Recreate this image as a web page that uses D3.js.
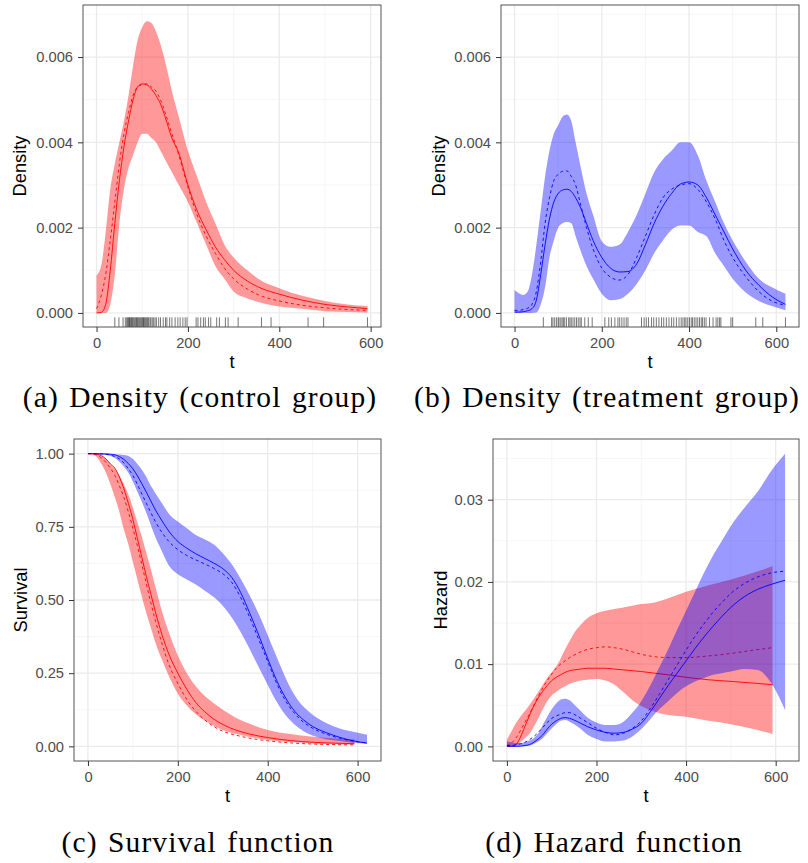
<!DOCTYPE html>
<html>
<head>
<meta charset="utf-8">
<script src="https://cdn.jsdelivr.net/npm/d3@7"></script>
<style>
  body { margin: 0; background: #fff; }
  svg { display: block; }
</style>
</head>
<body>
<svg id="fig" width="808" height="863"></svg>
<script>
// ---- time grids ----
const tCtrl = [0,10,20,30,40,50,60,70,80,90,100,110,120,130,140,150,165,180,200,220,240,260,280,300,330,360,400,450,500,550,593];
const tTrt  = [0,10,20,30,40,50,60,70,80,90,100,110,120,130,140,150,165,180,200,220,240,260,280,300,320,340,360,380,400,420,440,460,480,500,530,560,590,621];

// ---- density, control group ----
const densCtrlFit = [0,0.00001,0.0002,0.0010,0.0021,0.0031,0.0039,0.0045,0.0050,0.0053,0.00537,0.00535,0.00525,0.0051,0.0049,0.0046,0.0041,0.00375,0.0030,0.0024,0.00195,0.00155,0.00125,0.0010,0.00075,0.00058,0.00044,0.0003,0.0002,0.00014,0.0001];
const densCtrlRef = [0.0001,0.0004,0.0009,0.0017,0.0026,0.0035,0.0042,0.0047,0.0051,0.0053,0.00535,0.00537,0.0053,0.0052,0.0050,0.0047,0.0042,0.0037,0.00295,0.0023,0.0018,0.0014,0.00105,0.0008,0.00056,0.0004,0.00028,0.00018,0.00012,0.00008,0.00006];
const densCtrlLo  = [0,0,0,0.0002,0.0009,0.0021,0.0029,0.0034,0.0037,0.0040,0.0042,0.0042,0.0041,0.0040,0.0038,0.0036,0.0033,0.0030,0.0026,0.0021,0.0016,0.0011,0.0008,0.0005,0.00034,0.00024,0.00015,0.0001,0.00004,0.00002,0.00001];
const densCtrlHi  = [0.00088,0.0011,0.0019,0.0029,0.0035,0.0040,0.0045,0.0051,0.0058,0.0064,0.0067,0.00684,0.0068,0.0066,0.0063,0.0059,0.0052,0.0046,0.0038,0.0032,0.0026,0.0021,0.0016,0.0013,0.0010,0.00076,0.00058,0.0004,0.00028,0.0002,0.00016];

// ---- density, treatment group ----
const densTrtFit = [0.00002,0.00002,0.00003,0.00005,0.0001,0.0003,0.0009,0.0016,0.0022,0.0026,0.0028,0.00288,0.0029,0.00285,0.0027,0.0025,0.0021,0.0017,0.0013,0.00105,0.00096,0.00097,0.00115,0.0016,0.0021,0.0025,0.0028,0.00302,0.00307,0.0030,0.0027,0.0023,0.0019,0.0015,0.0010,0.00065,0.00038,0.0002];
const densTrtRef = [0.00006,0.00006,0.00008,0.00011,0.0002,0.0005,0.0012,0.0021,0.0027,0.0031,0.00325,0.00332,0.00333,0.0032,0.0030,0.0026,0.0020,0.0015,0.00105,0.00084,0.00077,0.0009,0.0013,0.0018,0.0023,0.0027,0.0029,0.0030,0.00303,0.0029,0.0026,0.0022,0.0017,0.0013,0.00085,0.0005,0.00028,0.00018];
const densTrtLo  = [0,0,0,0,0,0.00001,0.0002,0.0006,0.0013,0.0017,0.0020,0.0021,0.00213,0.0021,0.0018,0.0015,0.0011,0.0008,0.00045,0.0003,0.00032,0.00045,0.00068,0.0010,0.0014,0.0017,0.00195,0.00205,0.00205,0.0019,0.0018,0.0014,0.0011,0.0008,0.00048,0.00028,0.00016,0.00006];
const densTrtHi  = [0.00053,0.00046,0.00042,0.0005,0.0009,0.0016,0.0024,0.0032,0.0038,0.0042,0.0044,0.0046,0.00465,0.0045,0.0040,0.0035,0.0028,0.0023,0.00168,0.00155,0.0016,0.0019,0.0023,0.0028,0.0033,0.0036,0.0038,0.0040,0.0040,0.0037,0.0031,0.0026,0.0021,0.0017,0.0012,0.0008,0.0006,0.00045];

// ---- survival ----
const survCtrlFit = [1.0,0.9999,0.998,0.993,0.982,0.965,0.95,0.92,0.88,0.83,0.775,0.71,0.645,0.58,0.52,0.46,0.38,0.315,0.25,0.195,0.15,0.118,0.093,0.075,0.055,0.042,0.03,0.02,0.014,0.011,0.009];
const survCtrlRef = [1.0,0.999,0.995,0.985,0.97,0.95,0.925,0.89,0.85,0.80,0.745,0.685,0.62,0.555,0.49,0.43,0.35,0.28,0.215,0.16,0.12,0.09,0.068,0.052,0.038,0.028,0.019,0.012,0.008,0.006,0.005];
const survCtrlLo  = [1.0,0.996,0.988,0.965,0.935,0.895,0.85,0.80,0.74,0.69,0.63,0.57,0.51,0.455,0.405,0.355,0.295,0.24,0.18,0.14,0.11,0.088,0.07,0.056,0.042,0.032,0.022,0.015,0.01,0.007,0.006];
const survCtrlHi  = [1.0,1.0,0.998,0.993,0.982,0.965,0.948,0.925,0.895,0.86,0.815,0.765,0.715,0.66,0.605,0.545,0.46,0.39,0.31,0.25,0.205,0.172,0.147,0.125,0.097,0.077,0.056,0.042,0.033,0.027,0.024];

const survTrtFit = [1.0,1.0,1.0,0.9995,0.999,0.998,0.996,0.99,0.98,0.966,0.948,0.924,0.897,0.868,0.838,0.808,0.77,0.735,0.70,0.677,0.658,0.642,0.626,0.607,0.577,0.525,0.455,0.38,0.30,0.225,0.165,0.12,0.09,0.068,0.047,0.031,0.019,0.011];
const survTrtRef = [1.0,1.0,0.9995,0.999,0.998,0.995,0.99,0.982,0.968,0.948,0.925,0.895,0.862,0.83,0.798,0.768,0.73,0.70,0.672,0.652,0.637,0.623,0.608,0.59,0.56,0.508,0.44,0.365,0.29,0.215,0.155,0.112,0.082,0.062,0.042,0.028,0.018,0.012];
const survTrtLo  = [1.0,1.0,0.999,0.997,0.995,0.992,0.985,0.972,0.955,0.935,0.905,0.87,0.835,0.797,0.755,0.715,0.665,0.618,0.588,0.57,0.553,0.532,0.51,0.48,0.44,0.39,0.332,0.27,0.21,0.152,0.106,0.074,0.052,0.037,0.024,0.018,0.012,0.009];
const survTrtHi  = [1.0,1.0,1.0,1.0,1.0,0.999,0.998,0.997,0.995,0.992,0.982,0.965,0.945,0.92,0.89,0.865,0.83,0.795,0.768,0.745,0.722,0.707,0.69,0.66,0.622,0.572,0.515,0.452,0.38,0.305,0.233,0.175,0.135,0.108,0.08,0.061,0.05,0.04];

// ---- hazard ----
const hazCtrlFit = [0,0.00002,0.0002,0.0011,0.0024,0.0037,0.0049,0.0059,0.0067,0.0074,0.0080,0.0084,0.0087,0.0090,0.0092,0.0093,0.0094,0.0095,0.0095,0.0095,0.0094,0.0093,0.0092,0.0091,0.0089,0.0087,0.0084,0.0081,0.0079,0.0077,0.0075];
const hazCtrlRef = [0.0001,0.0004,0.0010,0.0019,0.0029,0.0039,0.0050,0.0061,0.0071,0.0080,0.0088,0.0095,0.0100,0.0104,0.0108,0.0111,0.0115,0.0118,0.0120,0.0121,0.0120,0.0118,0.0115,0.0112,0.0109,0.0108,0.0108,0.0110,0.0113,0.0117,0.0120];
const hazCtrlLo  = [0,0,0.0001,0.0005,0.0010,0.0015,0.0024,0.0034,0.0045,0.0055,0.0062,0.0066,0.0070,0.0073,0.0076,0.0078,0.0080,0.0081,0.0082,0.0080,0.0075,0.0066,0.0056,0.0049,0.0042,0.0038,0.0036,0.0031,0.0027,0.0021,0.0015];
const hazCtrlHi  = [0.0008,0.0018,0.0028,0.0036,0.0043,0.0050,0.0058,0.0066,0.0075,0.0083,0.0090,0.0097,0.0107,0.0118,0.0128,0.0138,0.0148,0.0156,0.0162,0.0165,0.0167,0.0169,0.0171,0.0173,0.0175,0.0180,0.0188,0.0196,0.0203,0.0211,0.0219];

const hazTrtFit = [0,0,0,0.00002,0.0001,0.0002,0.0005,0.0009,0.0014,0.0021,0.0027,0.0031,0.0034,0.0035,0.0034,0.0032,0.0028,0.0024,0.0020,0.0017,0.0016,0.0017,0.0021,0.0028,0.0042,0.0058,0.0074,0.0089,0.0104,0.0119,0.0133,0.0146,0.0158,0.0169,0.0182,0.0191,0.0197,0.0202];
const hazTrtRef = [0.0001,0.0001,0.0002,0.0003,0.0005,0.0008,0.0012,0.0017,0.0023,0.0029,0.0034,0.0037,0.0039,0.0041,0.0041,0.0039,0.0034,0.0029,0.0022,0.0017,0.0014,0.0016,0.0022,0.0031,0.0046,0.0063,0.0081,0.0099,0.0117,0.0134,0.0149,0.0163,0.0175,0.0186,0.0198,0.0206,0.0211,0.0213];
const hazTrtLo  = [0,0,0,0,0,0.0001,0.0003,0.0006,0.0010,0.0016,0.0022,0.0027,0.0031,0.0032,0.0030,0.0027,0.0021,0.0014,0.0009,0.0006,0.0006,0.0007,0.0012,0.0021,0.0033,0.0045,0.0055,0.0065,0.0073,0.0079,0.0083,0.0087,0.0089,0.0091,0.0094,0.0093,0.0077,0.0044];
const hazTrtHi  = [0.0006,0.0005,0.0004,0.0004,0.0005,0.0007,0.0010,0.0016,0.0026,0.0036,0.0045,0.0052,0.0057,0.0058,0.0056,0.0051,0.0043,0.0035,0.0029,0.0026,0.0026,0.0030,0.0041,0.0055,0.0074,0.0096,0.0118,0.0142,0.0165,0.0188,0.0211,0.0232,0.0250,0.0268,0.0290,0.0310,0.0335,0.0356];

// ---- observed event times (rug) ----
const rugCtrl = [40,49,58,63,66,68,70,72,73,75,77,78,80,82,84,86,88,89,91,93,95,97,99,101,103,104,106,108,110,112,114,117,119,122,125,128,131,136,140,146,151,154,160,165,172,178,183,189,194,198,218,222,228,234,238,245,250,263,269,282,288,310,361,382,463,497,593];
const rugTrt = [66,85,88,92,96,100,102,106,109,112,115,119,124,127,130,134,138,142,146,150,153,161,169,178,207,216,222,230,237,241,246,251,256,260,291,297,302,307,314,319,325,331,337,342,348,354,360,365,371,377,382,386,390,393,397,401,405,408,412,416,420,424,428,431,435,439,447,455,462,466,470,473,496,500,553,569,621];

// ---- axis ticks ----
const xTicks = [0, 200, 400, 600];
const xMinor = [100, 300, 500];
const densTicks = [0, 0.002, 0.004, 0.006];
const densMinor = [0.001, 0.003, 0.005, 0.007];
const survTicks = [0, 0.25, 0.5, 0.75, 1];
const survMinor = [0.125, 0.375, 0.625, 0.875];
const hazTicks = [0, 0.01, 0.02, 0.03];
const hazMinor = [0.005, 0.015, 0.025, 0.035];

const captions = ["(a) Density (control group)", "(b) Density (treatment group)", "(c) Survival function", "(d) Hazard function"];

const RED = "#ff0000", BLUE = "#0000ff";
const SANS = "'Liberation Sans', Arial, Helvetica, sans-serif";
const SERIF = "'Liberation Serif', 'Times New Roman', serif";

const svg = d3.select("#fig");
const defs = svg.append("defs");

const zip = (t, v) => t.map((d, i) => [d, v[i]]);

function drawPanel(p) {
  const x = d3.scaleLinear().domain(p.xDom).range([p.l, p.r]);
  const y = d3.scaleLinear().domain(p.yDom).range([p.b, p.t]);
  const g = svg.append("g");

  defs.append("clipPath").attr("id", "clip-" + p.id)
    .append("rect").attr("x", p.l).attr("y", p.t).attr("width", p.r - p.l).attr("height", p.b - p.t);

  // grid
  const grid = g.append("g");
  grid.selectAll(".mx").data(xMinor).join("line")
    .attr("x1", d => x(d)).attr("x2", d => x(d)).attr("y1", p.t).attr("y2", p.b)
    .attr("stroke", "#f2f2f2").attr("stroke-width", 0.7);
  grid.selectAll(".my").data(p.yMinor.filter(v => v > p.yDom[0] && v < p.yDom[1])).join("line")
    .attr("x1", p.l).attr("x2", p.r).attr("y1", d => y(d)).attr("y2", d => y(d))
    .attr("stroke", "#f2f2f2").attr("stroke-width", 0.7);
  grid.selectAll(".Mx").data(xTicks).join("line")
    .attr("x1", d => x(d)).attr("x2", d => x(d)).attr("y1", p.t).attr("y2", p.b)
    .attr("stroke", "#ebebeb").attr("stroke-width", 1.3);
  grid.selectAll(".My").data(p.yTicks).join("line")
    .attr("x1", p.l).attr("x2", p.r).attr("y1", d => y(d)).attr("y2", d => y(d))
    .attr("stroke", "#ebebeb").attr("stroke-width", 1.3);

  const plot = g.append("g").attr("clip-path", `url(#clip-${p.id})`);
  const area = d3.area().x(d => x(d[0])).y0(d => y(d[1])).y1(d => y(d[2])).curve(d3.curveMonotoneX);
  const line = d3.line().x(d => x(d[0])).y(d => y(d[1])).curve(d3.curveMonotoneX);

  p.groups.forEach(s => {
    plot.append("path")
      .datum(s.t.map((d, i) => [d, s.lo[i], s.hi[i]]))
      .attr("d", area).attr("fill", s.color).attr("fill-opacity", 0.4);
    plot.append("path").datum(zip(s.t, s.fit)).attr("d", line)
      .attr("fill", "none").attr("stroke", s.color).attr("stroke-width", 0.9);
    plot.append("path").datum(zip(s.t, s.ref)).attr("d", line)
      .attr("fill", "none").attr("stroke", s.color).attr("stroke-width", 0.9)
      .attr("stroke-dasharray", "3,3");
  });

  if (p.rug) {
    const rugLen = 0.03 * (p.b - p.t);
    plot.selectAll(".rug").data(p.rug).join("line")
      .attr("x1", d => x(d)).attr("x2", d => x(d))
      .attr("y1", p.b).attr("y2", p.b - rugLen)
      .attr("stroke", "#000").attr("stroke-opacity", 0.6).attr("stroke-width", 0.9);
  }

  // border
  g.append("rect").attr("x", p.l).attr("y", p.t).attr("width", p.r - p.l).attr("height", p.b - p.t)
    .attr("fill", "none").attr("stroke", "#555").attr("stroke-width", 1);

  // axes
  const ax = g.append("g").attr("transform", `translate(0,${p.b})`)
    .call(d3.axisBottom(x).tickValues(xTicks).tickSize(5).tickPadding(5.5).tickFormat(d3.format("d")));
  const ay = g.append("g").attr("transform", `translate(${p.l},0)`)
    .call(d3.axisLeft(y).tickValues(p.yTicks).tickSize(5).tickPadding(5).tickFormat(p.yFmt));
  [ax, ay].forEach(a => {
    a.select(".domain").remove();
    a.selectAll(".tick line").attr("stroke", "#333").attr("stroke-width", 1);
    a.selectAll(".tick text").attr("fill", "#4d4d4d").style("font-family", SANS).style("font-size", "14.7px");
  });

  // axis titles
  g.append("text").attr("x", (p.l + p.r) / 2).attr("y", p.b + 41)
    .attr("text-anchor", "middle").style("font-family", SANS).style("font-size", "18.3px")
    .text("t");
  g.append("text").attr("transform", `translate(${p.yTitleX},${(p.t + p.b) / 2}) rotate(-90)`)
    .attr("text-anchor", "middle").style("font-family", SANS).style("font-size", "18.3px")
    .text(p.yTitle);

  // caption
  svg.append("text").attr("x", p.capX).attr("y", p.capY)
    .attr("text-anchor", "middle").style("font-family", SERIF).style("font-size", "29.5px")
    .style("letter-spacing", "1.1px").style("word-spacing", "2px")
    .text(p.caption);
}

const ctrl = (fit, ref, lo, hi) => ({ t: tCtrl, fit, ref, lo, hi, color: RED });
const trt  = (fit, ref, lo, hi) => ({ t: tTrt, fit, ref, lo, hi, color: BLUE });

drawPanel({
  id: "a", l: 83, r: 381, t: 5, b: 327,
  xDom: [-29.65, 622.65], yDom: [-0.00033, 0.00722],
  yTicks: densTicks, yMinor: densMinor, yFmt: d3.format(".3f"),
  yTitle: "Density", yTitleX: 26,
  groups: [ctrl(densCtrlFit, densCtrlRef, densCtrlLo, densCtrlHi)],
  rug: rugCtrl, caption: captions[0], capX: 200, capY: 407
});
drawPanel({
  id: "b", l: 501, r: 799, t: 5, b: 327,
  xDom: [-31.05, 652.05], yDom: [-0.00033, 0.00722],
  yTicks: densTicks, yMinor: densMinor, yFmt: d3.format(".3f"),
  yTitle: "Density", yTitleX: 445,
  groups: [trt(densTrtFit, densTrtRef, densTrtLo, densTrtHi)],
  rug: rugTrt, caption: captions[1], capX: 607, capY: 407
});
drawPanel({
  id: "c", l: 74, r: 381, t: 439, b: 761,
  xDom: [-31.05, 652.05], yDom: [-0.05, 1.05],
  yTicks: survTicks, yMinor: survMinor, yFmt: d3.format(".2f"),
  yTitle: "Survival", yTitleX: 27,
  groups: [ctrl(survCtrlFit, survCtrlRef, survCtrlLo, survCtrlHi), trt(survTrtFit, survTrtRef, survTrtLo, survTrtHi)],
  rug: null, caption: captions[2], capX: 198, capY: 852
});
drawPanel({
  id: "d", l: 493, r: 799, t: 439, b: 761,
  xDom: [-31.05, 652.05], yDom: [-0.00178, 0.03738],
  yTicks: hazTicks, yMinor: hazMinor, yFmt: d3.format(".2f"),
  yTitle: "Hazard", yTitleX: 447,
  groups: [ctrl(hazCtrlFit, hazCtrlRef, hazCtrlLo, hazCtrlHi), trt(hazTrtFit, hazTrtRef, hazTrtLo, hazTrtHi)],
  rug: null, caption: captions[3], capX: 614, capY: 852
});
</script>
</body>
</html>
